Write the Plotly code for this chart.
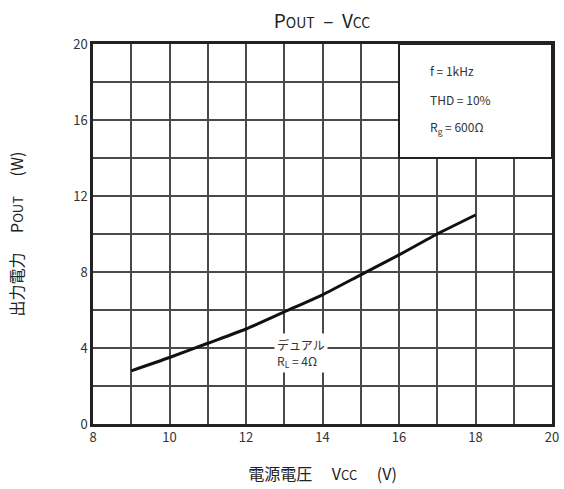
import plotly.graph_objects as go

# supply voltage (V) and output power (W)
vcc = [9, 10, 11, 12, 13, 14, 15, 16, 17, 18]
pout = [2.8, 3.5, 4.25, 5.0, 5.9, 6.8, 7.85, 8.9, 10.0, 11.0]

x_ticks = [8, 10, 12, 14, 16, 18, 20]
y_ticks = [0, 4, 8, 12, 16, 20]

cond_lines = ["f = 1kHz", "THD = 10%", "R<sub>g</sub> = 600Ω"]
cond_y = [18.6, 17.1, 15.6]

font_name = "Noto Sans CJK JP, Noto Sans, sans-serif"
grid_col = "#4a4a4a"

fig = go.Figure()

fig.add_trace(go.Scatter(
    x=vcc, y=pout, mode="lines",
    line=dict(color="#111", width=3, shape="spline", smoothing=0.6),
    showlegend=False, hoverinfo="skip"
))

axis_common = dict(
    showline=True, linecolor="#222", linewidth=2.5, mirror=True,
    showgrid=True, gridcolor=grid_col, gridwidth=1.6,
    zeroline=False, ticks="", automargin=False,
    tickfont=dict(size=13, color="#333", family=font_name),
)

fig.update_xaxes(
    range=[8, 20], tickvals=x_ticks,
    minor=dict(dtick=1, showgrid=True, gridcolor=grid_col, gridwidth=1.6),
    title=dict(text="電源電圧　 V<span style='font-size:13px'>CC</span>　 (V)",
               font=dict(size=16, color="#222", family=font_name), standoff=24),
    **axis_common
)
fig.update_yaxes(
    range=[0, 20], tickvals=y_ticks,
    minor=dict(dtick=2, showgrid=True, gridcolor=grid_col, gridwidth=1.6),
    title=dict(text="出力電力　 P<span style='font-size:13px'>OUT</span>　 (W)",
               font=dict(size=16, color="#222", family=font_name), standoff=46),
    **axis_common
)

# conditions box in the upper right corner hides the grid
fig.add_shape(type="rect", x0=16, x1=20, y0=14, y1=20, layer="above",
              fillcolor="white", line=dict(color="#222", width=2))

for txt, yy in zip(cond_lines, cond_y):
    fig.add_annotation(x=16.75, y=yy, text=txt, showarrow=False, xanchor="left",
                       font=dict(size=12, color="#333", family=font_name))

fig.add_annotation(x=13.45, y=3.75, text="デュアル<br>R<sub>L</sub> = 4Ω", showarrow=False,
                   bgcolor="white", borderpad=2, align="left",
                   font=dict(size=12, color="#333", family=font_name))

fig.update_layout(
    width=564, height=485,
    margin=dict(l=93, r=12, t=44, b=61, autoexpand=False),
    paper_bgcolor="white", plot_bgcolor="white",
    title=dict(text="P<span style='font-size:14px'>OUT</span>  –  V<span style='font-size:14px'>CC</span>",
               x=0.571, xanchor="center", y=0.955, yanchor="middle",
               font=dict(size=19, color="#222", family=font_name)),
)

# drop the default page margin so the figure sits at the window corner
fig.write_html("out.html", config={"displayModeBar": False},
               post_script="document.body.style.margin='0';")
